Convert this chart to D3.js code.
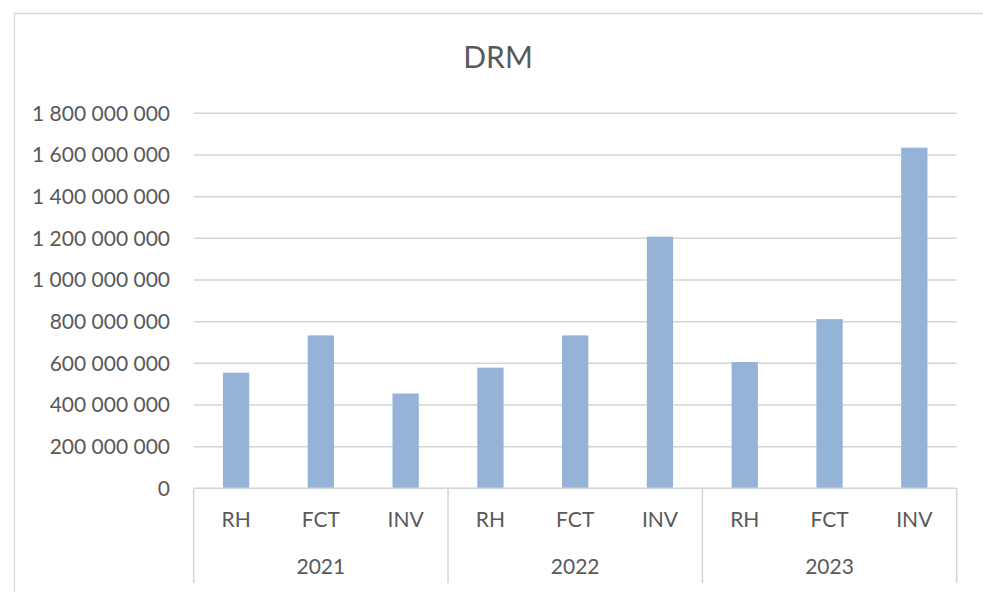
<!DOCTYPE html>
<html>
<head>
<meta charset="utf-8">
<script src="https://cdn.jsdelivr.net/npm/d3@7"></script>
<style>
  body { margin: 0; background: #fff; }
  text { font-family: Lato, "Open Sans", sans-serif; fill: #595959; }
</style>
</head>
<body>
<svg width="983" height="592"></svg>
<script>
const width = 983;
const height = 592;

// categories
const years = ["2021", "2022", "2023"];
const items = ["RH", "FCT", "INV"];

// values per year, in the order of items
const values2021 = [555000000, 734000000, 455000000];
const values2022 = [579000000, 734000000, 1208000000];
const values2023 = [606000000, 812000000, 1635000000];

const yTicks = [0, 200000000, 400000000, 600000000, 800000000, 1000000000,
  1200000000, 1400000000, 1600000000, 1800000000];

const rows = [values2021, values2022, values2023];
const data = [];
years.forEach((yr, i) => {
  items.forEach((it, j) => data.push({ year: yr, item: it, value: rows[i][j] }));
});

const svg = d3.select('svg');

// plot area
const plotLeft = 193.7, plotRight = 956.7, plotTop = 113.3, plotBottom = 488.3;

const x0 = d3.scaleBand().domain(years).range([plotLeft, plotRight]).padding(0);
const x1 = d3.scaleBand().domain(items).range([0, x0.bandwidth()])
  .paddingInner(0.69).paddingOuter(0.345);
const y = d3.scaleLinear().domain([0, 1800000000]).range([plotBottom, plotTop]);

const fmt = d3.formatLocale({ decimal: ",", thousands: " ", grouping: [3], currency: ["", ""] }).format(",d");

// outer chart border
svg.append("path")
  .attr("d", "M14.5,592 L14.5,13.5 L983,13.5")
  .style("fill", "none")
  .style("stroke", "#d9d9d9")
  .style("stroke-width", 1.3);

// title
svg.append("text")
  .attr("x", 498)
  .attr("y", 68)
  .attr("text-anchor", "middle")
  .style("font-size", "30px")
  .text("DRM");

// gridlines
svg.selectAll("line.grid")
  .data(yTicks.filter(d => d > 0))
  .enter().append("line")
  .attr("class", "grid")
  .attr("x1", plotLeft)
  .attr("x2", plotRight)
  .attr("y1", d => y(d))
  .attr("y2", d => y(d))
  .style("stroke", "#d4d4d4")
  .style("stroke-width", 1.5);

// y labels
svg.selectAll("text.ytick")
  .data(yTicks)
  .enter().append("text")
  .attr("class", "ytick")
  .attr("x", 170)
  .attr("y", d => y(d))
  .attr("dy", "0.35em")
  .attr("text-anchor", "end")
  .style("font-size", "21px")
  .text(d => fmt(d));

// bars
svg.selectAll("rect.bar")
  .data(data)
  .enter().append("rect")
  .attr("class", "bar")
  .attr("x", d => x0(d.year) + x1(d.item))
  .attr("width", x1.bandwidth())
  .attr("y", d => y(d.value))
  .attr("height", d => y(0) - y(d.value))
  .style("fill", "#95b3d7");

// category axis line
svg.append("line")
  .attr("x1", plotLeft).attr("x2", plotRight)
  .attr("y1", plotBottom).attr("y2", plotBottom)
  .style("stroke", "#d4d4d4")
  .style("stroke-width", 1.5);

// group separators
const seps = years.map(d => x0(d)).concat([x0.range()[1]]);
svg.selectAll("line.sep")
  .data(seps)
  .enter().append("line")
  .attr("class", "sep")
  .attr("x1", d => d).attr("x2", d => d)
  .attr("y1", plotBottom).attr("y2", 583)
  .style("stroke", "#d4d4d4")
  .style("stroke-width", 1.5);

// item labels
svg.selectAll("text.item")
  .data(data)
  .enter().append("text")
  .attr("class", "item")
  .attr("x", d => x0(d.year) + x1(d.item) + x1.bandwidth() / 2)
  .attr("y", 527)
  .attr("text-anchor", "middle")
  .style("font-size", "21px")
  .text(d => d.item);

// year labels
svg.selectAll("text.year")
  .data(years)
  .enter().append("text")
  .attr("class", "year")
  .attr("x", d => x0(d) + x0.bandwidth() / 2)
  .attr("y", 574)
  .attr("text-anchor", "middle")
  .style("font-size", "21px")
  .text(d => d);
</script>
</body>
</html>
